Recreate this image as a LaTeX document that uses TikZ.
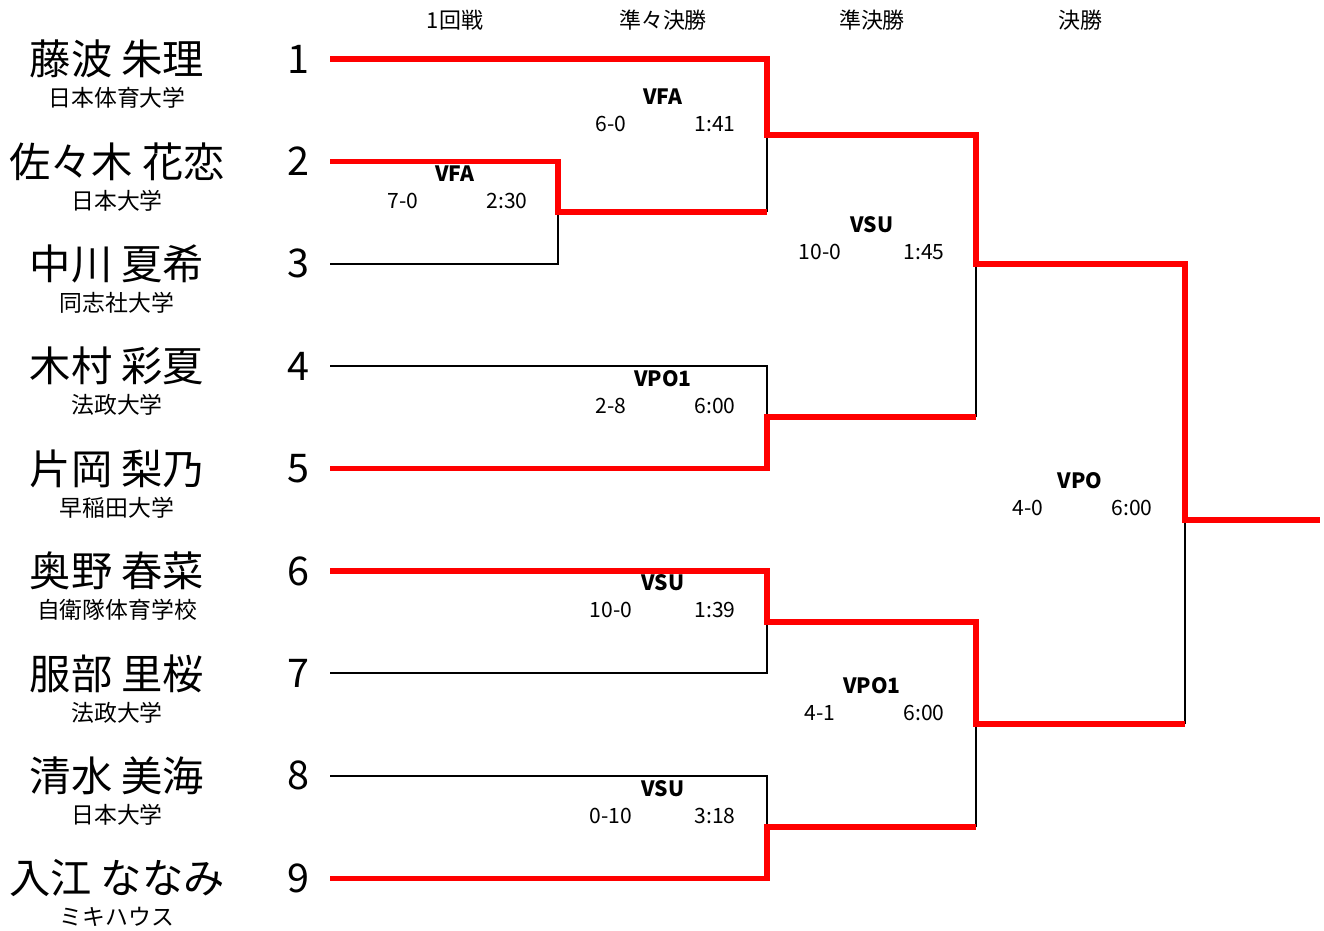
\documentclass[tikz,border=0pt]{standalone}
\usepackage{fontspec}
\setmainfont{Noto Sans CJK JP}
\usepackage{tikz}
\usetikzlibrary{positioning}

\tikzset{
  player/.style={font=\fontsize{23.5}{25}\selectfont, inner sep=0pt},
  team/.style={font=\fontsize{13}{14}\selectfont, inner sep=0pt},
  seed/.style={font=\fontsize{22.5}{24}\selectfont, inner sep=0pt},
  head/.style={font=\fontsize{12.5}{14}\selectfont, inner sep=0pt},
  bout/.style={font=\bfseries\fontsize{12}{14}\selectfont, inner sep=0pt},
  score/.style={font=\fontsize{12}{14}\selectfont, inner sep=0pt},
  lose/.style={black, line width=1.1pt},
  win/.style={red, line width=2.9pt}
}

\begin{document}
\begin{tikzpicture}[x=0.02cm, y=-0.02cm]
        \useasboundingbox (0,0) rectangle (1324,930);
        % round headers
        \foreach \x/\h [count=\k] in {455/1回戦, 663/準々決勝, 872/準決勝, 1080/決勝}
            {\node[head] (h\k) at (\x,20) {\h};}
        % players
        \foreach \i/\nm/\tm [evaluate=\i as \y using {59+102.4*(\i-1)}] in {1/藤波 朱理/日本体育大学, 2/佐々木 花恋/日本大学, 3/中川 夏希/同志社大学, 4/木村 彩夏/法政大学, 5/片岡 梨乃/早稲田大学, 6/奥野 春菜/自衛隊体育学校, 7/服部 里桜/法政大学, 8/清水 美海/日本大学, 9/入江 ななみ/ミキハウス}
            {\node[player] (n\i) at (117,\y) {\nm};
             \node[team] (t\i) at (117,\y+39) {\tm};
             \node[seed] (no\i) at (298,\y) {\i};
             \coordinate (p\i) at (330,\y);}
        % joints
        \coordinate (r1) at (558,212);
        \coordinate (qf1) at (767,135);
        \coordinate (qf2) at (767,417);
        \coordinate (qf3) at (767,622);
        \coordinate (qf4) at (767,827);
        \coordinate (sf1) at (976,264);
        \coordinate (sf2) at (976,724);
        \coordinate (fin) at (1185,520);
        \coordinate (champ) at (1320,520);
        % losers
        \draw[lose] (p3) -| (r1);
        \draw[lose] (r1 -| qf1) -- (qf1);
        \draw[lose] (p4) -| (qf2);
        \draw[lose] (qf2 -| sf1) -- (sf1);
        \draw[lose] (p7) -| (qf3);
        \draw[lose] (p8) -| (qf4);
        \draw[lose] (qf4 -| sf2) -- (sf2);
        \draw[lose] (sf2 -| fin) -- (fin);
        % winners
        \draw[win] (p2) -| (r1) -- (r1 -| qf1);
        \draw[win] (p1) -| (qf1) -| (sf1) -| (fin) -- (champ);
        \draw[win] (p5) -| (qf2) -- (qf2 -| sf1);
        \draw[win] (p6) -| (qf3) -| (sf2) -- (sf2 -| fin);
        \draw[win] (p9) -| (qf4) -- (qf4 -| sf2);
        % bout results
        \foreach \x/\y/\w/\s/\t [count=\k] in {455/174/VFA/7-0/2:30, 663/97/VFA/6-0/1:41, 663/379/VPO1/2-8/6:00, 663/583/VSU/10-0/1:39, 663/789/VSU/0-10/3:18, 872/225/VSU/10-0/1:45, 872/686/VPO1/4-1/6:00, 1080/481/VPO/4-0/6:00}
            {\node[bout] (m\k) at (\x,\y) {\w};
             \node[score] (ms\k) at (\x-52,\y+27) {\s};
             \node[score] (mt\k) at (\x+52,\y+27) {\t};}
    \end{tikzpicture}
\end{document}
